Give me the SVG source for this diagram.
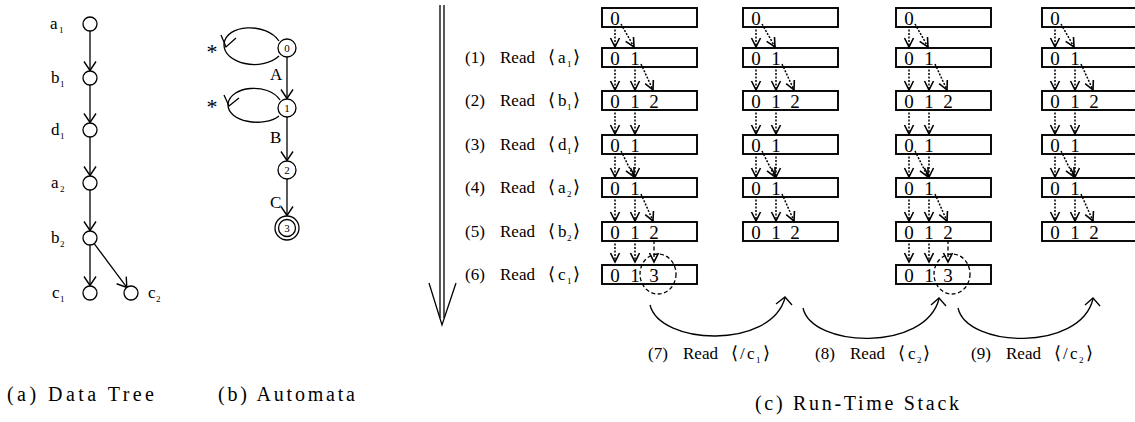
<svg xmlns="http://www.w3.org/2000/svg" width="1135" height="422" viewBox="0 0 1135 422">
  <style>
    text { font-family: "Liberation Serif", "DejaVu Serif", serif; fill: #000; stroke: none; }
    .lbl { font-size: 17px; }
    .sub { font-size: 9px; }
    .br { font-family: "DejaVu Sans", sans-serif; font-size: 18px; }
    .cap { font-size: 20px; }
    .dig { font-size: 19px; text-anchor: middle; }
    .st { font-size: 11px; text-anchor: middle; }
    .ast { font-size: 22px; text-anchor: middle; }
    .ln { fill: none; stroke: #000; stroke-width: 1.3; }
    .node { fill: #fff; stroke: #000; stroke-width: 1.3; }
    .box { fill: #fff; stroke: #000; stroke-width: 1.9; }
    .dot { fill: none; stroke: #000; stroke-width: 1.5; stroke-dasharray: 2 1.5; }
    .dash { fill: none; stroke: #000; stroke-width: 1.3; stroke-dasharray: 4 2.5; }
  </style>
  <defs>
    <!-- open V head for tree and automaton edges -->
    <marker id="vT" viewBox="-1 -8 12 16" markerWidth="12" markerHeight="16" refX="9" refY="0" orient="auto" markerUnits="userSpaceOnUse">
      <path d="M0,-6 L9,0 L0,6" fill="none" stroke="#000" stroke-width="1.4"/>
    </marker>
    <!-- smaller open V head for stack transitions -->
    <marker id="vS" viewBox="-1 -6 12 12" markerWidth="12" markerHeight="12" refX="9" refY="0" orient="auto" markerUnits="userSpaceOnUse">
      <path d="M0,-4.5 L9,0 L0,4.5" fill="none" stroke="#000" stroke-width="1.6"/>
    </marker>
  </defs>

  <rect width="1135" height="422" fill="#fff"/>

  <!-- ===== (a) data tree ===== -->
  <g id="tree-connectors" class="ln">
    <path d="M90,31 V70.5" marker-end="url(#vT)"/>
    <path d="M90,85 V122.5" marker-end="url(#vT)"/>
    <path d="M90,137 V175.5" marker-end="url(#vT)"/>
    <path d="M90,190 V230.5" marker-end="url(#vT)"/>
    <path d="M90,245 V285.5" marker-end="url(#vT)"/>
    <path d="M94.2,243.6 L126.8,287.4" marker-end="url(#vT)"/>
  </g>
  <g id="t-a1"><circle class="node" cx="90" cy="24" r="7"/><text class="lbl" x="50" y="29">a<tspan class="sub" x="59" dy="4">1</tspan></text></g>
  <g id="t-b1"><circle class="node" cx="90" cy="78" r="7"/><text class="lbl" x="51" y="83">b<tspan class="sub" x="60" dy="4">1</tspan></text></g>
  <g id="t-d1"><circle class="node" cx="90" cy="130" r="7"/><text class="lbl" x="51" y="135">d<tspan class="sub" x="60" dy="4">1</tspan></text></g>
  <g id="t-a2"><circle class="node" cx="90" cy="183" r="7"/><text class="lbl" x="51" y="188">a<tspan class="sub" x="60" dy="4">2</tspan></text></g>
  <g id="t-b2"><circle class="node" cx="90" cy="238" r="7"/><text class="lbl" x="51" y="243">b<tspan class="sub" x="60" dy="4">2</tspan></text></g>
  <g id="t-c1"><circle class="node" cx="90" cy="293" r="7"/><text class="lbl" x="52" y="298">c<tspan class="sub" x="60" dy="4">1</tspan></text></g>
  <g id="t-c2"><circle class="node" cx="131" cy="293" r="7"/><text class="lbl" x="148" y="298">c<tspan class="sub" x="156" dy="4">2</tspan></text></g>

  <!-- ===== (b) automaton ===== -->
  <g id="fa-connectors">
    <g class="ln">
      <path d="M287,57 V98.5" marker-end="url(#vT)"/>
      <path d="M287,117 V160.5" marker-end="url(#vT)"/>
      <path d="M287,179 V215.5" marker-end="url(#vT)"/>
      <!-- self loops on states 0 and 1 -->
      <path d="M279,41 C266,22 226,24 224,44 C223,64 262,72 279,56"/>
      <polyline points="221,35 226,47 236,38"/>
      <path d="M280,100 C268,82 230,86 228,104 C227,122 264,128 279,116"/>
      <polyline points="224,95 229,106 239,98"/>
    </g>
    <text class="lbl" x="270" y="80">A</text>
    <text class="lbl" x="270" y="143">B</text>
    <text class="lbl" x="270" y="208">C</text>
    <text class="ast" x="212" y="59">*</text>
    <text class="ast" x="212" y="114">*</text>
  </g>
  <g id="q0"><circle class="node" cx="287" cy="48" r="9"/><text class="st" x="287" y="52">0</text></g>
  <g id="q1"><circle class="node" cx="287" cy="108" r="9"/><text class="st" x="287" y="112">1</text></g>
  <g id="q2"><circle class="node" cx="287" cy="170" r="9"/><text class="st" x="287" y="174">2</text></g>
  <g id="q3"><circle class="node" cx="287" cy="228" r="12"/><circle class="node" cx="287" cy="228" r="8.5"/><text class="st" x="287" y="232">3</text></g>

  <!-- ===== (c) run-time stack ===== -->
  <g id="time-arrow" class="ln">
    <path d="M440,5 V318 M444,5 V318"/>
    <polyline points="429,283 442,325 456,283"/>
  </g>

  <g id="step-labels" class="lbl">
    <text x="465" y="63">(1)<tspan x="500">Read</tspan><tspan class="br" x="548">⟨</tspan><tspan x="558">a</tspan><tspan class="sub" x="567" dy="4">1</tspan><tspan class="br" x="573" dy="-4">⟩</tspan></text>
    <text x="465" y="106">(2)<tspan x="500">Read</tspan><tspan class="br" x="548">⟨</tspan><tspan x="558">b</tspan><tspan class="sub" x="567" dy="4">1</tspan><tspan class="br" x="573" dy="-4">⟩</tspan></text>
    <text x="465" y="150">(3)<tspan x="500">Read</tspan><tspan class="br" x="548">⟨</tspan><tspan x="558">d</tspan><tspan class="sub" x="567" dy="4">1</tspan><tspan class="br" x="573" dy="-4">⟩</tspan></text>
    <text x="465" y="193">(4)<tspan x="500">Read</tspan><tspan class="br" x="548">⟨</tspan><tspan x="558">a</tspan><tspan class="sub" x="567" dy="4">2</tspan><tspan class="br" x="573" dy="-4">⟩</tspan></text>
    <text x="465" y="237">(5)<tspan x="500">Read</tspan><tspan class="br" x="548">⟨</tspan><tspan x="558">b</tspan><tspan class="sub" x="567" dy="4">2</tspan><tspan class="br" x="573" dy="-4">⟩</tspan></text>
    <text x="465" y="280">(6)<tspan x="500">Read</tspan><tspan class="br" x="548">⟨</tspan><tspan x="558">c</tspan><tspan class="sub" x="567" dy="4">1</tspan><tspan class="br" x="573" dy="-4">⟩</tspan></text>
    <text x="648" y="359">(7)<tspan x="683">Read</tspan><tspan class="br" x="731">⟨</tspan><tspan x="740">/</tspan><tspan x="747">c</tspan><tspan class="sub" x="756" dy="4">1</tspan><tspan class="br" x="763" dy="-4">⟩</tspan></text>
    <text x="815" y="359">(8)<tspan x="850">Read</tspan><tspan class="br" x="898">⟨</tspan><tspan x="908">c</tspan><tspan class="sub" x="917" dy="4">2</tspan><tspan class="br" x="923" dy="-4">⟩</tspan></text>
    <text x="971" y="359">(9)<tspan x="1006">Read</tspan><tspan class="br" x="1054">⟨</tspan><tspan x="1063">/</tspan><tspan x="1070">c</tspan><tspan class="sub" x="1079" dy="4">2</tspan><tspan class="br" x="1086" dy="-4">⟩</tspan></text>
  </g>

  <!-- stack snapshots: one column per run -->
  <g id="stack-1" transform="translate(602,0)">
    <rect class="box" x="0" y="8" width="95" height="19"/><text class="dig" x="13" y="25">0</text>
    <rect class="box" x="0" y="48" width="95" height="19"/><text class="dig" x="13" y="65">0</text><text class="dig" x="33" y="65">1</text>
    <rect class="box" x="0" y="91" width="95" height="19"/><text class="dig" x="13" y="108">0</text><text class="dig" x="33" y="108">1</text><text class="dig" x="52" y="108">2</text>
    <rect class="box" x="0" y="135" width="95" height="19"/><text class="dig" x="13" y="152">0</text><text class="dig" x="33" y="152">1</text>
    <rect class="box" x="0" y="178" width="95" height="19"/><text class="dig" x="13" y="195">0</text><text class="dig" x="33" y="195">1</text>
    <rect class="box" x="0" y="222" width="95" height="19"/><text class="dig" x="13" y="239">0</text><text class="dig" x="33" y="239">1</text><text class="dig" x="52" y="239">2</text>
    <rect class="box" x="0" y="265" width="95" height="19"/><text class="dig" x="13" y="282">0</text><text class="dig" x="33" y="282">1</text><text class="dig" x="52" y="282">3</text>
    <ellipse class="dash" cx="56" cy="274" rx="18" ry="20"/>
  </g>
  <g id="stack-2" transform="translate(743,0)">
    <rect class="box" x="0" y="8" width="95" height="19"/><text class="dig" x="13" y="25">0</text>
    <rect class="box" x="0" y="48" width="95" height="19"/><text class="dig" x="13" y="65">0</text><text class="dig" x="33" y="65">1</text>
    <rect class="box" x="0" y="91" width="95" height="19"/><text class="dig" x="13" y="108">0</text><text class="dig" x="33" y="108">1</text><text class="dig" x="52" y="108">2</text>
    <rect class="box" x="0" y="135" width="95" height="19"/><text class="dig" x="13" y="152">0</text><text class="dig" x="33" y="152">1</text>
    <rect class="box" x="0" y="178" width="95" height="19"/><text class="dig" x="13" y="195">0</text><text class="dig" x="33" y="195">1</text>
    <rect class="box" x="0" y="222" width="95" height="19"/><text class="dig" x="13" y="239">0</text><text class="dig" x="33" y="239">1</text><text class="dig" x="52" y="239">2</text>
  </g>
  <g id="stack-3" transform="translate(896,0)">
    <rect class="box" x="0" y="8" width="95" height="19"/><text class="dig" x="13" y="25">0</text>
    <rect class="box" x="0" y="48" width="95" height="19"/><text class="dig" x="13" y="65">0</text><text class="dig" x="33" y="65">1</text>
    <rect class="box" x="0" y="91" width="95" height="19"/><text class="dig" x="13" y="108">0</text><text class="dig" x="33" y="108">1</text><text class="dig" x="52" y="108">2</text>
    <rect class="box" x="0" y="135" width="95" height="19"/><text class="dig" x="13" y="152">0</text><text class="dig" x="33" y="152">1</text>
    <rect class="box" x="0" y="178" width="95" height="19"/><text class="dig" x="13" y="195">0</text><text class="dig" x="33" y="195">1</text>
    <rect class="box" x="0" y="222" width="95" height="19"/><text class="dig" x="13" y="239">0</text><text class="dig" x="33" y="239">1</text><text class="dig" x="52" y="239">2</text>
    <rect class="box" x="0" y="265" width="95" height="19"/><text class="dig" x="13" y="282">0</text><text class="dig" x="33" y="282">1</text><text class="dig" x="52" y="282">3</text>
    <ellipse class="dash" cx="56" cy="274" rx="18" ry="20"/>
  </g>
  <g id="stack-4" transform="translate(1042,0)">
    <rect class="box" x="0" y="8" width="95" height="19"/><text class="dig" x="13" y="25">0</text>
    <rect class="box" x="0" y="48" width="95" height="19"/><text class="dig" x="13" y="65">0</text><text class="dig" x="33" y="65">1</text>
    <rect class="box" x="0" y="91" width="95" height="19"/><text class="dig" x="13" y="108">0</text><text class="dig" x="33" y="108">1</text><text class="dig" x="52" y="108">2</text>
    <rect class="box" x="0" y="135" width="95" height="19"/><text class="dig" x="13" y="152">0</text><text class="dig" x="33" y="152">1</text>
    <rect class="box" x="0" y="178" width="95" height="19"/><text class="dig" x="13" y="195">0</text><text class="dig" x="33" y="195">1</text>
    <rect class="box" x="0" y="222" width="95" height="19"/><text class="dig" x="13" y="239">0</text><text class="dig" x="33" y="239">1</text><text class="dig" x="52" y="239">2</text>
  </g>

  <!-- state transitions between consecutive stack frames -->
  <g id="stack-connectors">
    <g id="steps-1" transform="translate(602,0)" class="dot">
      <path d="M13,26V47" marker-end="url(#vS)"/><path d="M19,24L32,47" marker-end="url(#vS)"/>
      <path d="M13,66V90" marker-end="url(#vS)"/><path d="M33,66V90" marker-end="url(#vS)"/><path d="M39,64L51,90" marker-end="url(#vS)"/>
      <path d="M13,109V134" marker-end="url(#vS)"/><path d="M33,109V134" marker-end="url(#vS)"/>
      <path d="M13,153V177" marker-end="url(#vS)"/><path d="M19,151L32,177" marker-end="url(#vS)"/><path d="M33,153V177" marker-end="url(#vS)"/>
      <path d="M13,196V221" marker-end="url(#vS)"/><path d="M33,196V221" marker-end="url(#vS)"/><path d="M39,194L51,221" marker-end="url(#vS)"/>
      <path d="M13,240V262" marker-end="url(#vS)"/><path d="M33,240V262" marker-end="url(#vS)"/><path class="dash" d="M52,240V262" marker-end="url(#vS)"/>
    </g>
    <g id="steps-2" transform="translate(743,0)" class="dot">
      <path d="M13,26V47" marker-end="url(#vS)"/><path d="M19,24L32,47" marker-end="url(#vS)"/>
      <path d="M13,66V90" marker-end="url(#vS)"/><path d="M33,66V90" marker-end="url(#vS)"/><path d="M39,64L51,90" marker-end="url(#vS)"/>
      <path d="M13,109V134" marker-end="url(#vS)"/><path d="M33,109V134" marker-end="url(#vS)"/>
      <path d="M13,153V177" marker-end="url(#vS)"/><path d="M19,151L32,177" marker-end="url(#vS)"/><path d="M33,153V177" marker-end="url(#vS)"/>
      <path d="M13,196V221" marker-end="url(#vS)"/><path d="M33,196V221" marker-end="url(#vS)"/><path d="M39,194L51,221" marker-end="url(#vS)"/>
    </g>
    <g id="steps-3" transform="translate(896,0)" class="dot">
      <path d="M13,26V47" marker-end="url(#vS)"/><path d="M19,24L32,47" marker-end="url(#vS)"/>
      <path d="M13,66V90" marker-end="url(#vS)"/><path d="M33,66V90" marker-end="url(#vS)"/><path d="M39,64L51,90" marker-end="url(#vS)"/>
      <path d="M13,109V134" marker-end="url(#vS)"/><path d="M33,109V134" marker-end="url(#vS)"/>
      <path d="M13,153V177" marker-end="url(#vS)"/><path d="M19,151L32,177" marker-end="url(#vS)"/><path d="M33,153V177" marker-end="url(#vS)"/>
      <path d="M13,196V221" marker-end="url(#vS)"/><path d="M33,196V221" marker-end="url(#vS)"/><path d="M39,194L51,221" marker-end="url(#vS)"/>
      <path d="M13,240V262" marker-end="url(#vS)"/><path d="M33,240V262" marker-end="url(#vS)"/><path class="dash" d="M52,240V262" marker-end="url(#vS)"/>
    </g>
    <g id="steps-4" transform="translate(1042,0)" class="dot">
      <path d="M13,26V47" marker-end="url(#vS)"/><path d="M19,24L32,47" marker-end="url(#vS)"/>
      <path d="M13,66V90" marker-end="url(#vS)"/><path d="M33,66V90" marker-end="url(#vS)"/><path d="M39,64L51,90" marker-end="url(#vS)"/>
      <path d="M13,109V134" marker-end="url(#vS)"/><path d="M33,109V134" marker-end="url(#vS)"/>
      <path d="M13,153V177" marker-end="url(#vS)"/><path d="M19,151L32,177" marker-end="url(#vS)"/><path d="M33,153V177" marker-end="url(#vS)"/>
      <path d="M13,196V221" marker-end="url(#vS)"/><path d="M33,196V221" marker-end="url(#vS)"/><path d="M39,194L51,221" marker-end="url(#vS)"/>
    </g>
    <!-- pop / push hops between runs -->
    <g id="hops" class="ln">
      <path d="M650,305 C660,345 770,350 785,298"/>
      <polyline points="776,304 785,297 792,305"/>
      <path d="M803,308 C812,348 925,352 939,299"/>
      <polyline points="931,305 939,298 946,306"/>
      <path d="M958,308 C967,348 1080,352 1093,299"/>
      <polyline points="1085,305 1093,298 1100,306"/>
    </g>
  </g>

  <!-- captions -->
  <g id="captions" class="cap">
    <text x="7" y="401" textLength="147" lengthAdjust="spacing">(a) Data Tree</text>
    <text x="218" y="401" textLength="137" lengthAdjust="spacing">(b) Automata</text>
    <text x="755" y="410" textLength="204" lengthAdjust="spacing">(c) Run-Time Stack</text>
  </g>
</svg>
